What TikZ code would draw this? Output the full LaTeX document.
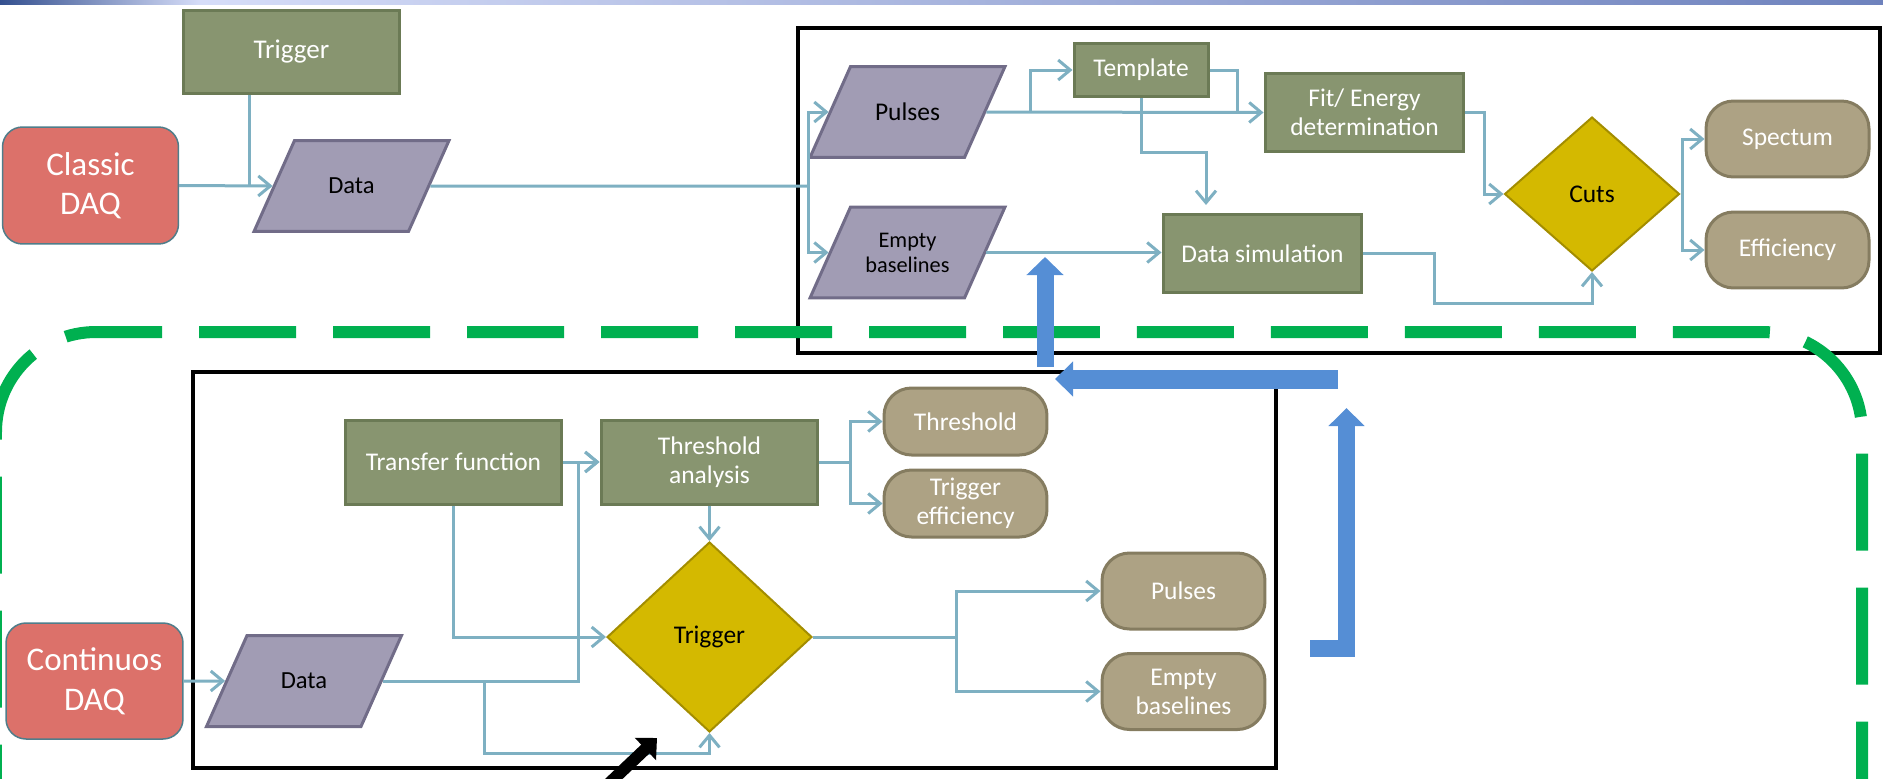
\documentclass[tikz,border=0pt]{standalone}
\usepackage{fontspec}
\setmainfont{Carlito}
\usetikzlibrary{shapes.geometric}
\usetikzlibrary{arrows.meta}
\usetikzlibrary{calc}

\definecolor{boxgreen}{HTML}{889570}
\definecolor{boxgreenline}{HTML}{6B7A55}
\definecolor{parafill}{HTML}{A19CB4}
\definecolor{paraline}{HTML}{716C88}
\definecolor{tanfill}{HTML}{ADA284}
\definecolor{tanline}{HTML}{857C60}
\definecolor{yellowfill}{HTML}{D4B900}
\definecolor{yellowline}{HTML}{A38D00}
\definecolor{daqfill}{HTML}{DC716A}
\definecolor{daqline}{HTML}{4F7D8A}
\definecolor{linkcol}{HTML}{7EB0C2}
\definecolor{arrowblue}{HTML}{558ED5}
\definecolor{dashgreen}{HTML}{00B050}
\definecolor{gradl}{HTML}{34508F}
\definecolor{gradm}{HTML}{D6DDF8}
\definecolor{gradr}{HTML}{6E82BD}

\tikzset{
  txt/.style={font=\fontsize{14.5}{16.5}\selectfont},
  procbox/.style={txt, draw=boxgreenline, line width=0.06cm, fill=boxgreen, text=white, align=center, inner sep=0pt},
  databox/.style={txt, trapezium, trapezium left angle=66, trapezium right angle=114,
    draw=paraline, line width=0.06cm, fill=parafill, inner sep=0pt,
    execute at begin node={\begin{minipage}[c][1.82cm][c]{2.28cm}\centering},
    execute at end node={\end{minipage}}},
  resultbox/.style={txt, rounded corners=0.55cm, draw=tanline, line width=0.06cm, fill=tanfill, text=white, align=center,
    minimum width=3.26cm, inner sep=0pt},
  decision/.style={txt, diamond, draw=yellowline, line width=0.04cm, fill=yellowfill, inner sep=0pt},
  daqbox/.style={font=\fontsize{18.8}{22.5}\selectfont, rounded corners=0.4cm, draw=daqline, line width=0.03cm, fill=daqfill,
    text=white, align=center, inner sep=0pt},
  link/.style={draw=linkcol, line width=0.06cm},
  flow/.style={link, -{Straight Barb[length=0.24cm, width=0.4cm]}},
  frame/.style={draw=black, line width=0.07cm},
  greendash/.style={draw=dashgreen, line width=0.24cm, dash pattern=on 1.94cm off 0.74cm, rounded corners=2cm},
}

\begin{document}
\begin{tikzpicture}[x=0.02cm, y=-0.02cm]
  \useasboundingbox (0,0) rectangle (1883,778);
  \clip (0,0) rectangle (1883,778);

  % Title bar
  \shade[left color=gradl, right color=gradm] (0,0) rectangle (200,4);
  \shade[left color=gradm, right color=gradr] (200,0) rectangle (1883,4);

  % Frames
  \draw[frame] (798,28) rectangle (1880,353);
  \draw[frame] (193,372) rectangle (1276,768);

  % Classic DAQ chain
  \node[daqbox, minimum width=3.52cm, minimum height=2.34cm] (classicdaq) at (90.5,185.5) {Classic\\DAQ};
  \node[procbox, font=\fontsize{15.4}{18}\selectfont, minimum width=4.34cm, minimum height=1.68cm] (trigtop) at (291.5,52) {Trigger};
  \node[databox, font=\fontsize{14}{16}\selectfont] (datatop) at (351.5,186) {Data};

  % Offline analysis
  \node[databox] (pulses) at (907.5,112) {Pulses};
  \node[databox, font=\fontsize{12.7}{14.2}\selectfont] (emptytop) at (907.5,252.5) {Empty\\baselines};
  \node[procbox, minimum width=2.68cm, minimum height=1.08cm] (template) at (1141,70) {Template};
  \node[procbox, minimum width=3.98cm, minimum height=1.58cm] (fit) at (1364.5,112.5) {Fit/ Energy\\determination};
  \node[procbox, minimum width=3.98cm, minimum height=1.58cm] (datasim) at (1262.5,253.5) {Data simulation};
  \node[decision, minimum width=3.5cm, minimum height=3.08cm] (cuts) at (1592,194) {Cuts};
  \node[resultbox, minimum height=1.52cm] (spectum) at (1787.5,139) {Spectum};
  \node[resultbox, minimum height=1.52cm] (efficiency) at (1787.5,250) {Efficiency};

  % Continuous DAQ chain
  \node[daqbox, minimum width=3.54cm, minimum height=2.32cm] (contdaq) at (94.5,681) {Continuos\\DAQ};
  \node[databox, font=\fontsize{14}{16}\selectfont] (databot) at (304,681) {Data};
  \node[procbox, minimum width=4.34cm, minimum height=1.68cm] (transfer) at (453.5,462) {Transfer function};
  \node[procbox, minimum width=4.34cm, minimum height=1.68cm] (thresh) at (709.5,462) {Threshold\\analysis};
  \node[decision, minimum width=4.1cm, minimum height=3.8cm] (trigger) at (709.5,637) {Trigger};
  \node[resultbox, minimum height=1.34cm] (threshout) at (965.5,421.5) {Threshold};
  \node[resultbox, minimum height=1.34cm] (trigeff) at (965.5,503.5) {Trigger\\efficiency};
  \node[resultbox, minimum height=1.52cm] (pulsesbot) at (1183.5,591) {Pulses};
  \node[resultbox, minimum height=1.52cm] (emptybot) at (1183.5,691.5) {Empty\\baselines};

  % Junctions
  \coordinate (tjoin) at (249,186);
  \coordinate (split) at (808,186);
  \coordinate (psplit) at (1030,112);
  \coordinate (tmerge) at (1237,112);
  \coordinate (simin) at (1206,205);
  \coordinate (csplit) at (1682,194);
  \coordinate (dsplit) at (484,681);
  \coordinate (asplit) at (850,462);
  \coordinate (gsplit) at (956,637);

  % Connectors, top
  \draw[flow] (classicdaq.east) -- (datatop.west);
  \draw[link] (tjoin |- trigtop.south) -- (tjoin);
  \draw[link] (datatop.east) -- (split);
  \draw[flow] (split) |- (pulses.west);
  \draw[flow] (split) |- (emptytop.west);
  \draw[flow] (pulses.east) -- (fit.west);
  \draw[flow] (psplit) |- (template.west);
  \draw[link] (template.east) -| (tmerge);
  \draw[flow] (template.south) -- ++(0,54) -| (simin);
  \draw[flow] (emptytop.east) -- (emptytop.east -| datasim.west);
  \draw[flow] (datasim.east) -| ++(71,50) -| (cuts.south);
  \draw[flow] (fit.east) -- ++(19,0) |- (cuts.west);
  \draw[link] (cuts.east) -- (csplit);
  \draw[flow] (csplit) |- (spectum.west);
  \draw[flow] (csplit) |- (efficiency.west);

  % Connectors, bottom
  \draw[flow] (contdaq.east) -- (databot.west);
  \draw[flow] (databot.east) -- ++(196,0) |- (thresh.west);
  \draw[flow] (transfer.east) -- (thresh.west);
  \draw[flow] (dsplit) -- ++(0,72) -| (trigger.south);
  \draw[flow] (transfer.south) |- (trigger.west);
  \draw[flow] (thresh.south) -- (trigger.north);
  \draw[link] (thresh.east) -- (asplit);
  \draw[flow] (asplit) |- (threshout.west);
  \draw[flow] (asplit) |- (trigeff.west);
  \draw[link] (trigger.east) -- (gsplit);
  \draw[flow] (gsplit) |- (pulsesbot.west);
  \draw[flow] (gsplit) |- (emptybot.west);

  % Dashed outline
  \draw[greendash] (966,332) -- (-4,332) -- (-4,900);
  \draw[greendash] (1003,332) -- (1862,332) -- (1862,900);

  % Block arrows
  \coordinate (upfoot) at (1045,367);
  \coordinate (uptip) at (1045,257);
  \coordinate (lefttail) at (1338,379);
  \coordinate (lefttip) at (1055,379);
  \coordinate (bentfoot) at (1310,648);
  \coordinate (bentknee) at (1346.5,648);
  \coordinate (benttip) at (1346.5,408);
  \coordinate (blacktail) at (600,792);
  \coordinate (blacktip) at (657,738);
  \draw[arrowblue, line width=0.34cm, -{Triangle[length=0.36cm, width=0.72cm]}] (upfoot) -- (uptip);
  \draw[arrowblue, line width=0.38cm, -{Triangle[length=0.36cm, width=0.68cm]}] (lefttail) -- (lefttip);
  \draw[arrowblue, line width=0.34cm, -{Triangle[length=0.36cm, width=0.7cm]}] (bentfoot) -- (bentknee) -- (benttip);
  \draw[black, line width=0.24cm, -{Triangle[length=0.32cm, width=0.6cm]}] (blacktail) -- (blacktip);
\end{tikzpicture}
\end{document}
